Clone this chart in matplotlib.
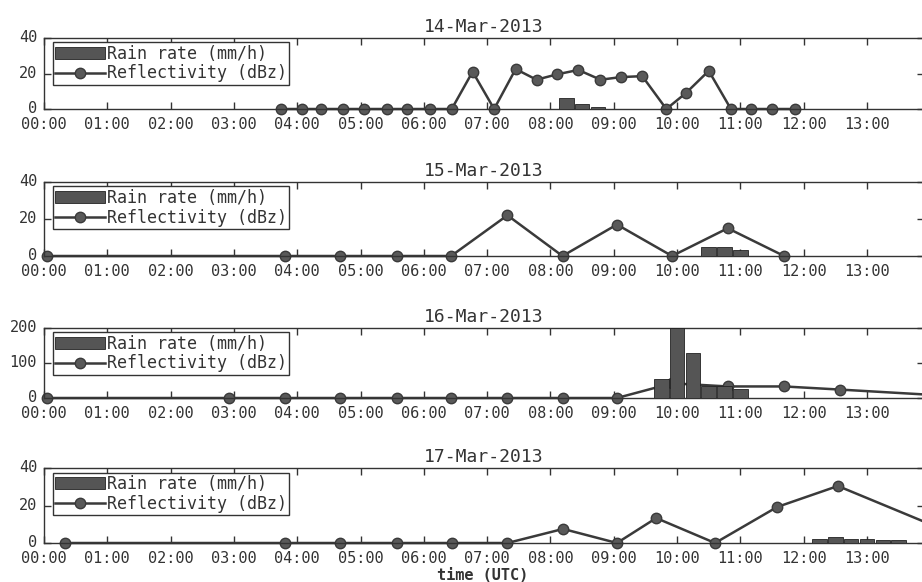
import matplotlib.pyplot as plt
import matplotlib.transforms as mtransforms

# Radar reflectivity (dBZ) sampled along each day, hours UTC
refl_time_14 = [3.75, 4.07, 4.38, 4.72, 5.06, 5.41, 5.74, 6.09, 6.44, 6.77, 7.11, 7.45, 7.78,
                8.10, 8.44, 8.79, 9.12, 9.45, 9.83, 10.14, 10.50, 10.85, 11.17, 11.50, 11.86]
refl_14 = [0, 0, 0, 0, 0, 0, 0, 0, 0, 21, 0, 22.5, 16.5,
           19.5, 22, 16.5, 18, 18.5, 0, 9, 21.5, 0, 0, 0, 0]

refl_time_15 = [0.05, 3.80, 4.67, 5.57, 6.43, 7.32, 8.19, 9.05, 9.92, 10.80, 11.69]
refl_15 = [0, 0, 0, 0, 0, 22, 0, 17, 0, 15, 0]

refl_time_16 = [0.04, 2.93, 3.80, 4.67, 5.57, 6.43, 7.32, 8.19, 9.05, 9.92, 10.80, 11.69, 12.58, 14.30]
refl_16 = [0, 0, 0, 0, 0, 0, 0, 0, 0, 42, 33, 33, 24, 6]

refl_time_17 = [0.33, 3.80, 4.67, 5.57, 6.45, 7.32, 8.20, 9.05, 9.67, 10.60, 11.58, 12.54, 14.30]
refl_17 = [0, 0, 0, 0, 0, 0, 7.5, 0, 13.3, 0, 19.2, 30.4, 5.8]

# Rain gauge, 15 min accumulations expressed as rate (mm/h)
rain_time_14 = [8.25, 8.50, 8.75]
rain_14 = [6, 3, 1]

rain_time_15 = [10.50, 10.75, 11.00]
rain_15 = [5, 5, 3]

rain_time_16 = [9.75, 10.00, 10.25, 10.50, 10.75, 11.00]
rain_16 = [55, 200, 130, 35, 34, 25]

rain_time_17 = [12.25, 12.50, 12.75, 13.00, 13.25, 13.50]
rain_17 = [2, 3, 2, 2, 1.5, 1.5]

days = ['14-Mar-2013', '15-Mar-2013', '16-Mar-2013', '17-Mar-2013']
hour_ticks = list(range(14))
hour_labels = [f'{h:02d}:00' for h in hour_ticks]

plt.rcParams['font.family'] = 'DejaVu Sans Mono'
plt.rcParams['font.size'] = 11

W, H = 922, 582
fig = plt.figure(figsize=(W / 100, H / 100), dpi=100)

# (top, bottom) of each panel in pixels, y range and y ticks
panels = [
    (days[0], 38, 109, 40, [0, 20, 40], refl_time_14, refl_14, rain_time_14, rain_14),
    (days[1], 182, 256, 40, [0, 20, 40], refl_time_15, refl_15, rain_time_15, rain_15),
    (days[2], 328, 398, 200, [0, 100, 200], refl_time_16, refl_16, rain_time_16, rain_16),
    (days[3], 468, 543, 40, [0, 20, 40], refl_time_17, refl_17, rain_time_17, rain_17),
]

dark = '#333333'
left, right = 44, 924
lift = mtransforms.ScaledTranslation(0, 2 / 100, fig.dpi_scale_trans)

for title, top, bottom, ymax, yticks, rt, rv, bt, bv in panels:
    ax = fig.add_axes([left / W, 1 - bottom / H, (right - left) / W, (bottom - top) / H])
    bars = ax.bar(bt, bv, width=0.23, color='#555555', edgecolor='#222222', linewidth=0.6,
                  zorder=3)
    line, = ax.plot(rt, rv, '-o', color='#3a3a3a', lw=1.8, ms=7.5, mfc='#595959',
                    mec='#3a3a3a', clip_on=False, zorder=2)
    ax.set_xlim(0, 13.9)
    ax.set_ylim(0, ymax)
    ax.set_xticks(hour_ticks)
    ax.set_xticklabels(hour_labels)
    ax.set_yticks(yticks)
    ax.tick_params(direction='in', top=True, right=True, length=5, width=1,
                   color=dark, labelcolor=dark)
    ax.tick_params(axis='x', pad=6)
    ax.tick_params(axis='y', pad=5)
    for lab in ax.get_yticklabels():
        lab.set_transform(lab.get_transform() + lift)
    for s in ax.spines.values():
        s.set_color(dark)
        s.set_linewidth(1)
    ax.set_title(title, fontsize=13, color=dark, pad=4)
    leg = ax.legend([bars, line], ['Rain rate (mm/h)', 'Reflectivity (dBz)'],
                    loc='upper left', bbox_to_anchor=(0.01, 0.94), borderaxespad=0,
                    frameon=True, fancybox=False, edgecolor=dark, framealpha=1,
                    handlelength=3.0, handletextpad=0.1, borderpad=0.15,
                    labelspacing=0.1, fontsize=12)
    leg.get_frame().set_linewidth(1)
    for t in leg.get_texts():
        t.set_color(dark)

fig.text(483 / W, 1 - 575 / H, 'time (UTC)', ha='center', va='center',
         fontsize=11, fontweight='bold', color=dark)

fig.savefig('out.png', dpi=100)
